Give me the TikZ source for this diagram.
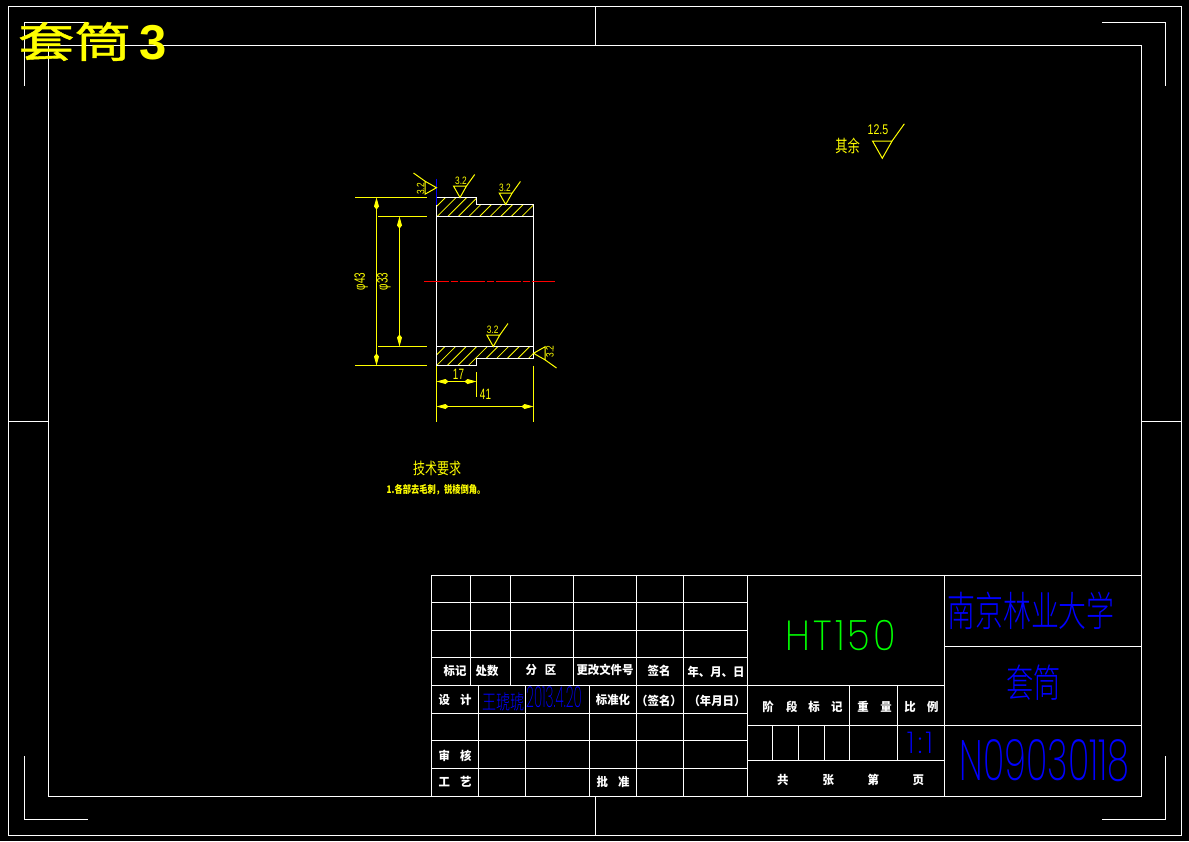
\documentclass[tikz,border=0pt]{standalone}
\usepackage{fontspec}
\setmainfont{Liberation Sans}
\newfontfamily\cjk{Noto Sans CJK SC}
\newfontfamily\cjkthin{Noto Sans CJK SC Light}
\newfontfamily\thinfont{Poppins ExtraLight}
\usetikzlibrary{%
  arrows.meta%
}
\definecolor{cadyellow}{RGB}{255,255,0}
\definecolor{cadblue}{RGB}{0,0,255}
\definecolor{cadgreen}{RGB}{0,255,0}
\newcommand{\cadfont}[2]{\fontsize{#1}{#1}\selectfont\addfontfeature{FakeStretch=#2}}
\newcommand{\cjkfont}[2]{\cjk\fontsize{#1}{#1}\selectfont\addfontfeature{FakeStretch=#2}}
\newcommand{\thinfontsize}[2]{\thinfont\fontsize{#1}{#1}\selectfont\addfontfeature{FakeStretch=#2}}
\newcommand{\cjkthinfont}[2]{\cjkthin\fontsize{#1}{#1}\selectfont\addfontfeature{FakeStretch=#2}}
\tikzset{>={Kite[length=12pt,width=5pt,inset=3pt]},%
  x=1pt,y=-1pt,inner sep=0pt,%
  frameline/.style={white,line width=1pt},%
  dimline/.style={cadyellow,line width=1pt},%
  hatchline/.style={cadyellow,line width=0.8pt},%
  whitetxt/.style={white,font=\bfseries\cjkfont{12}{0.95}},%
  yellowtxt/.style={cadyellow,font=\cadfont{15}{0.66}},%
  roughtxt/.style={cadyellow,font=\cadfont{10.7}{0.78}},%
  roughmark/.pic={
    \draw[dimline] (-6.5,-11.5) -- (6.5,-11.5) -- (0,0) -- cycle;
    \draw[dimline] (6.5,-11.5) -- (14.7,-23);
  }}
\begin{document}
\begin{tikzpicture}
  \fill[black] (0,0) rectangle (1189,841);
  \useasboundingbox (0,0) rectangle (1189,841);
  % frames
  \draw[frameline] (8.5,6.5) rectangle (1181.5,835.5);
  \draw[frameline] (48.5,45.5) rectangle (1141.5,796.5);
  \draw[frameline] (595.5,6.5) -- (595.5,45.5);
  \draw[frameline] (595.5,796.5) -- (595.5,835.5);
  \draw[frameline] (8.5,421.5) -- (48.5,421.5);
  \draw[frameline] (1141.5,421.5) -- (1181.5,421.5);
  \draw[frameline] (24.5,86) -- (24.5,22.5) -- (88,22.5);
  \draw[frameline] (1102,22.5) -- (1165.5,22.5) -- (1165.5,86);
  \draw[frameline] (24.5,756) -- (24.5,819.5) -- (88,819.5);
  \draw[frameline] (1102,819.5) -- (1165.5,819.5) -- (1165.5,756);
  % title
  \node (title) at (74.5,41.5) [cadyellow,font=\cjkfont{42}{1.35}\addfontfeature{FakeBold=1}] {套筒};
  \node (titlenum) at (153,42.5) [cadyellow,font=\bfseries\cadfont{49}{1}] {3};
  % hatching
  \begin{scope}
    \clip (436.5,197.5) -- (476.5,197.5) -- (476.5,204.5) -- (533.5,204.5)
      -- (533.5,216.5) -- (436.5,216.5) -- cycle;
    \foreach \hx in {0,...,10}
      \draw[hatchline] (426.5+10.6*\hx,216.5) -- ++(25,-25);
  \end{scope}
  \begin{scope}
    \clip (436.5,346.5) -- (533.5,346.5) -- (533.5,358.5) -- (476.5,358.5)
      -- (476.5,365.5) -- (436.5,365.5) -- cycle;
    \foreach \hx in {0,...,10}
      \draw[hatchline] (426+10.6*\hx,365.5) -- ++(25,-25);
  \end{scope}
  % part
  \draw[frameline] (436.5,204.5) -- (436.5,365.5) -- (476.5,365.5) -- (476.5,358.5)
    -- (533.5,358.5) -- (533.5,204.5) -- (476.5,204.5) -- (476.5,197.5) -- (436.5,197.5);
  \draw[frameline] (436.5,216.5) -- (533.5,216.5);
  \draw[frameline] (436.5,346.5) -- (533.5,346.5);
  \draw[cadblue,line width=1pt] (436.5,178.5) -- (436.5,204.5);
  \draw[red,line width=0.5pt,dash pattern=on 24.5pt off 2.2pt on 7pt off 2.3pt] (424,281.5) -- (555,281.5);
  % dimensions
  \draw[dimline] (355,197.5) -- (426.7,197.5);
  \draw[dimline] (378,216.5) -- (426.7,216.5);
  \draw[dimline] (378,346.5) -- (426.7,346.5);
  \draw[dimline] (355,365.5) -- (426.7,365.5);
  \draw[dimline,<->] (376.5,197.5) -- (376.5,365.5);
  \draw[dimline,<->] (399.5,216.5) -- (399.5,346.5);
  \draw[dimline] (436.5,365.5) -- (436.5,421.7);
  \draw[dimline] (533.5,365.5) -- (533.5,421.7);
  \draw[dimline] (476.5,372.3) -- (476.5,396.7);
  \draw[dimline,<->] (436.5,381.5) -- (476.5,381.5);
  \draw[dimline,<->] (436.5,406.5) -- (533.5,406.5);
  \node (dimouter) at (361.3,281.5) [yellowtxt,rotate=90] {φ43};
  \node (diminner) at (384,281.5) [yellowtxt,rotate=90] {φ33};
  \node (dimstep) at (458.5,374) [yellowtxt] {17};
  \node (dimlength) at (485.5,394) [yellowtxt] {41};
  % roughness
  \pic at (460,197.5) {roughmark};
  \pic at (505.7,204.5) {roughmark};
  \pic at (493.3,346.5) {roughmark};
  \pic[rotate=90] at (436.5,187.7) {roughmark};
  \pic[rotate=-90] at (533.5,353.3) {roughmark};
  \pic[scale=1.5] at (882.3,158.3) {roughmark};
  \node (roughA) at (461,181) [roughtxt] {3.2};
  \node (roughB) at (505,187.7) [roughtxt] {3.2};
  \node (roughC) at (492.7,330) [roughtxt] {3.2};
  \node (roughD) at (420.7,189) [roughtxt,rotate=90] {3.2};
  \node (roughE) at (550,351.7) [roughtxt,rotate=90] {3.2};
  \node (roughrest) at (878,130) [cadyellow,font=\cadfont{14}{0.76}] {12.5};
  \node (resttxt) at (847.5,146) [cadyellow,font=\cjkfont{17}{0.72}] {其余};
  % requirements
  \node (reqhead) at (437,468) [cadyellow,font=\cjkfont{16}{0.75}] {技术要求};
  \node (reqbody) at (436,489.5) [cadyellow,font=\bfseries\cjkfont{10.5}{0.785}] {1.各部去毛刺，锐棱倒角。};
  % title block, left part
  \draw[frameline] (431.5,575.5) rectangle (747.5,796.5);
  \foreach \ry in {602.5,630.5,657.5,685.5,713.5,740.5,768.5}
    \draw[frameline] (431.5,\ry) -- (747.5,\ry);
  \foreach \cx in {470.5,510.5,573.5}
    \draw[frameline] (\cx,575.5) -- (\cx,685.5);
  \foreach \cx in {478.5,525.5,589.5}
    \draw[frameline] (\cx,685.5) -- (\cx,796.5);
  \foreach \cx in {636.5,683.5}
    \draw[frameline] (\cx,575.5) -- (\cx,796.5);
  % title block, right part
  \draw[frameline] (747.5,575.5) rectangle (1141.5,796.5);
  \draw[frameline] (944.5,575.5) -- (944.5,796.5);
  \draw[frameline] (944.5,646.5) -- (1141.5,646.5);
  \draw[frameline] (944.5,725.5) -- (1141.5,725.5);
  \draw[frameline] (747.5,685.5) -- (944.5,685.5);
  \draw[frameline] (747.5,725.5) -- (944.5,725.5);
  \draw[frameline] (747.5,760.5) -- (944.5,760.5);
  \foreach \cx in {849.5,897.5}
    \draw[frameline] (\cx,685.5) -- (\cx,760.5);
  \foreach \cx in {772.5,798.5,824.5}
    \draw[frameline] (\cx,725.5) -- (\cx,760.5);
  % title block texts
  \node (mark) at (455,671) [whitetxt] {标记};
  \node (count) at (487,671) [whitetxt] {处数};
  \node (zone) at (541,670) [whitetxt] {分\hspace{8pt}区};
  \node (docno) at (605,670) [whitetxt] {更改文件号};
  \node (sign) at (659,671) [whitetxt] {签名};
  \node (date) at (716,672) [whitetxt] {年、月、日};
  \node (design) at (455,700) [whitetxt] {设\hspace{10pt}计};
  \node (std) at (613,700) [whitetxt] {标准化};
  \node (signb) at (659,701) [whitetxt] {（签名）};
  \node (dateb) at (717,701) [whitetxt] {（年月日）};
  \node (check) at (455,756) [whitetxt] {审\hspace{10pt}核};
  \node (craft) at (455,782) [whitetxt] {工\hspace{10pt}艺};
  \node (approve) at (613,782) [whitetxt] {批\hspace{10pt}准};
  \node (stageA) at (768,707) [whitetxt] {阶};
  \node (stageB) at (791.7,707) [whitetxt] {段};
  \node (stageC) at (814,707) [whitetxt] {标};
  \node (stageD) at (836.7,707) [whitetxt] {记};
  \node (weightA) at (863,707) [whitetxt] {重};
  \node (weightB) at (886,707) [whitetxt] {量};
  \node (ratioA) at (910,707) [whitetxt] {比};
  \node (ratioB) at (932.7,707) [whitetxt] {例};
  \node (sheetA) at (782.7,780) [whitetxt] {共};
  \node (sheetB) at (828.3,780) [whitetxt] {张};
  \node (sheetC) at (873.3,780) [whitetxt] {第};
  \node (sheetD) at (918.3,780) [whitetxt] {页};
  \node (author) at (503,701.5) [cadblue,font=\cjkthinfont{20}{0.7}] {王琥琥};
  \node (when) at (554,697) [cadblue,font=\thinfontsize{29}{0.47}] {2013.4.20};
  \node (material) at (841,635) [cadgreen,font=\thinfontsize{42}{0.89}] {H\hspace{3pt}T\hspace{3pt}1\hspace{3pt}5\hspace{3pt}0};
  \node (school) at (1031,611) [cadblue,font=\cjkthinfont{41}{0.68}] {南京林业大学};
  \node (partname) at (1033.5,683) [cadblue,font=\cjkthinfont{39}{0.7}] {套筒};
  \node (partno) at (1044.5,760.5) [cadblue,font=\thinfontsize{57}{0.62}] {N09030118};
  \node (scale) at (920,742.5) [cadblue,font=\thinfontsize{30}{1}] {1\hspace{3pt}:\hspace{3pt}1};
\end{tikzpicture}
\end{document}
